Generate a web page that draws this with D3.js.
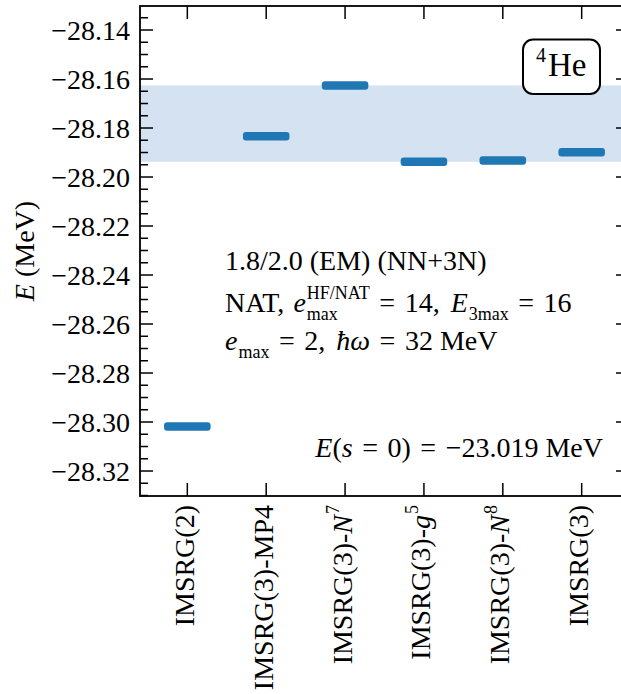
<!DOCTYPE html>
<html>
<head>
<meta charset="utf-8">
<script src="https://cdn.jsdelivr.net/npm/d3@7"></script>
<style>
  html, body { margin: 0; padding: 0; background: #fff; }
  svg { display: block; }
</style>
</head>
<body>
<svg id="chart" width="621" height="694"></svg>
<script>
// Ground-state energy of 4He for several IMSRG truncations
const methods = ["IMSRG(2)", "IMSRG(3)-MP4", "IMSRG(3)-N^7", "IMSRG(3)-g^5", "IMSRG(3)-N^8", "IMSRG(3)"];
const energies = [-28.3018, -28.1834, -28.1626, -28.1938, -28.1933, -28.1899];
const yMajorTicks = [-28.14, -28.16, -28.18, -28.20, -28.22, -28.24, -28.26, -28.28, -28.30, -28.32];
const yDomain = [-28.3302, -28.1302];
const xDomain = [-0.6, 5.6];

const FONT = "'Liberation Serif', 'DejaVu Serif', serif";
const FS = 28;       // base font size
const SCRIPT = 18;   // sub/superscript size

const svg = d3.select("#chart").attr("font-family", FONT);
const margin = { left: 140, top: 6, right: 629, bottom: 496 };

const x = d3.scaleLinear().domain(xDomain).range([margin.left, margin.right]);
const y = d3.scaleLinear().domain(yDomain).range([margin.bottom, margin.top]);

const plot = svg.append("g");

// spread band over the IMSRG(3)-type results
const imsrg3 = energies.slice(1);
plot.append("rect")
  .attr("x", x(xDomain[0]))
  .attr("width", x(xDomain[1]) - x(xDomain[0]))
  .attr("y", y(d3.max(imsrg3)))
  .attr("height", y(d3.min(imsrg3)) - y(d3.max(imsrg3)))
  .attr("fill", "#d5e2f1");

// one horizontal level per method
const halfW = 0.295, thick = 8.5;
plot.selectAll("rect.level")
  .data(energies)
  .join("rect")
  .attr("class", "level")
  .attr("x", (d, i) => x(i - halfW))
  .attr("width", (d, i) => x(i + halfW) - x(i - halfW))
  .attr("y", d => y(d) - thick / 2)
  .attr("height", thick)
  .attr("rx", 3)
  .attr("fill", "#1f77b4");

// frame
plot.append("rect")
  .attr("x", margin.left).attr("y", margin.top)
  .attr("width", margin.right - margin.left)
  .attr("height", margin.bottom - margin.top)
  .attr("fill", "none").attr("stroke", "#000").attr("stroke-width", 1.8);

// ticks (pointing inward, on all four sides)
const MAJ = 13, MIN = 8;
const yMinorTicks = d3.range(0, 41).map(k => -28.33 + k * 0.005)
  .filter(v => v >= yDomain[0] && v <= yDomain[1])
  .filter(v => !yMajorTicks.some(t => Math.abs(t - v) < 1e-6));

const tickG = svg.append("g").attr("stroke", "#000").attr("stroke-width", 1.5);
yMajorTicks.forEach(v => {
  tickG.append("line").attr("x1", margin.left).attr("x2", margin.left + MAJ).attr("y1", y(v)).attr("y2", y(v));
  tickG.append("line").attr("x1", margin.right).attr("x2", margin.right - MAJ).attr("y1", y(v)).attr("y2", y(v));
});
yMinorTicks.forEach(v => {
  tickG.append("line").attr("x1", margin.left).attr("x2", margin.left + MIN).attr("y1", y(v)).attr("y2", y(v));
  tickG.append("line").attr("x1", margin.right).attr("x2", margin.right - MIN).attr("y1", y(v)).attr("y2", y(v));
});
methods.forEach((m, i) => {
  tickG.append("line").attr("x1", x(i)).attr("x2", x(i)).attr("y1", margin.bottom).attr("y2", margin.bottom - MAJ);
  tickG.append("line").attr("x1", x(i)).attr("x2", x(i)).attr("y1", margin.top).attr("y2", margin.top + MAJ);
});

// y tick labels
const fmt = v => "\u2212" + Math.abs(v).toFixed(2);
svg.append("g").selectAll("text")
  .data(yMajorTicks)
  .join("text")
  .attr("font-family", FONT)
  .attr("x", margin.left - 10)
  .attr("y", d => y(d) + 9.5)
  .attr("text-anchor", "end")
  .attr("font-size", FS)
  .text(fmt);

// Lay out one line of text as a single <text> made of tspans.
// Each part: {t, it, sup, sub, op, pad}; op adds math spacing on both sides,
// pad adds extra space after the part.
function mathRun(g, parts, size) {
  const text = g.append("text").attr("font-family", FONT).style("white-space", "pre");
  const gap = size * 0.34;
  let cx = 0;
  parts.forEach(p => {
    if (p.op) cx += gap;
    const t = text.append("tspan").attr("x", cx).attr("y", 0)
      .attr("font-size", size)
      .attr("font-style", p.it ? "italic" : "normal")
      .text(p.t);
    const w = t.node().getComputedTextLength();
    let extra = 0;
    const x0 = cx + w + 1;
    if (p.sup) {
      const a = text.append("tspan").attr("x", x0).attr("y", -size * 0.45)
        .attr("font-size", SCRIPT).attr("font-style", "normal").text(p.sup);
      extra = Math.max(extra, a.node().getComputedTextLength() + 1);
    }
    if (p.sub) {
      const b = text.append("tspan").attr("x", x0).attr("y", size * 0.27)
        .attr("font-size", SCRIPT).attr("font-style", "normal").text(p.sub);
      extra = Math.max(extra, b.node().getComputedTextLength() + 1);
    }
    cx += w + extra + (p.pad || 0);
    if (p.op) cx += gap;
  });
  return { text, width: cx };
}

// category labels, rotated, reading upward
function labelParts(name) {
  const k = name.indexOf("^");
  if (k < 0) return [{ t: name }];
  return [{ t: name.slice(0, k - 1) }, { t: name[k - 1], it: true, sup: name.slice(k + 1) }];
}
methods.forEach((m, i) => {
  const g = svg.append("g");
  const inner = g.append("g");
  const r = mathRun(inner, labelParts(m), FS);
  inner.attr("transform", `translate(${-r.width},0)`);
  g.attr("transform", `translate(${x(i) + 6.5},${margin.bottom + 9}) rotate(-90)`);
});

// y-axis title
{
  const g = svg.append("g");
  const inner = g.append("g");
  const r = mathRun(inner, [{ t: "E", it: true }, { t: " (MeV)" }], FS);
  inner.attr("transform", `translate(${-r.width / 2},0)`);
  g.attr("transform", `translate(34,${(margin.top + margin.bottom) / 2}) rotate(-90)`);
}

// annotations
function placeLine(parts, px, py, anchor) {
  const g = svg.append("g");
  const r = mathRun(g, parts, FS);
  g.attr("transform", `translate(${anchor === "end" ? px - r.width : px},${py})`);
}
placeLine([{ t: "1.8/2.0 (EM) (NN+3N)" }], 225, 270);
placeLine([
  { t: "NAT, ", pad: 2 },
  { t: "e", it: true, sup: "HF/NAT", sub: "max" },
  { t: "=", op: true },
  { t: "14, ", pad: 4 },
  { t: "E", it: true, sub: "3max" },
  { t: "=", op: true },
  { t: "16" }
], 225, 312);
placeLine([
  { t: "e", it: true, sub: "max" },
  { t: "=", op: true },
  { t: "2, ", pad: 4 },
  { t: "\u0127\u03C9", it: true },
  { t: "=", op: true },
  { t: "32 MeV" }
], 225, 350);
placeLine([
  { t: "E", it: true },
  { t: "(" },
  { t: "s", it: true },
  { t: "=", op: true },
  { t: "0)" },
  { t: "=", op: true },
  { t: "\u221223.019 MeV" }
], 603, 457, "end");

// nucleus tag
svg.append("rect")
  .attr("x", 523).attr("y", 39.5).attr("width", 77).attr("height", 54.5)
  .attr("rx", 10).attr("fill", "#fff").attr("stroke", "#000").attr("stroke-width", 2);
const tag = svg.append("text").attr("font-family", FONT);
tag.append("tspan").attr("x", 536).attr("y", 62).attr("font-size", 20).text("4");
tag.append("tspan").attr("x", 548).attr("y", 76).attr("font-size", 33).text("He");
</script>
</body>
</html>
